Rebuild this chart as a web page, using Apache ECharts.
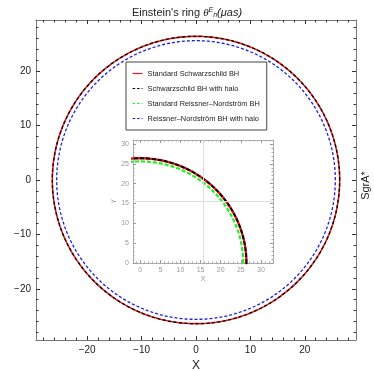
<!DOCTYPE html>
<html><head><meta charset="utf-8">
<script src="https://cdn.jsdelivr.net/npm/echarts@6/dist/echarts.min.js"></script>
<style>html,body{margin:0;padding:0;background:#fff}#c{width:374px;height:371px}</style>
</head><body><div id="c"></div>
<script>
// ---- data ----
const seriesNames = ['Standard Schwarzschild BH','Schwarzschild BH with halo','Standard Reissner\u2013Nordstr\u00f6m BH','Reissner\u2013Nordstr\u00f6m BH with halo'];
const ringRadius = [26.4, 26.4, 25.6, 25.6];   // Einstein ring radius (μas)
const seriesColors = ['#e41a1c','#000000','#22ee22','#1a1aee'];
const mainSeries = [0, 1, 3];     // drawn in the main panel
const insetSeries = [0, 1, 2];    // drawn in the inset
const mainMajorTicks = [-20, -10, 0, 10, 20];
const insetMajorTicks = [0, 5, 10, 15, 20, 25, 30];
const insetGridLines = [15.6];

function circle(r){ const pts=[]; for(let a=0;a<=360;a++){const t=a*Math.PI/180; pts.push([r*Math.cos(t), r*Math.sin(t)]);} return pts; }
function minorList(lo,hi,step,majors){const out=[];for(let v=lo;v<=hi+1e-9;v+=step){const w=Math.round(v*100)/100; if(!majors.includes(w)) out.push(w);}return out;}
const mainMinor = minorList(-28,28,2,mainMajorTicks);
const insetMinorX = minorList(-1,33,1,insetMajorTicks);
const insetMinorY = minorList(0,31,1,insetMajorTicks);
const fmt = v => String(v).replace('-', '\u2212');

const M = {min:-29.4, max:29.4};
const IX = {min:-1.8, max:33};
const IY = {min:0, max:31};
const frameCol = '#777';
const insetCol = '#aaa';

function axisSet(grid, range, pos, majors, minors, labels, majorLen, minorLen, lineCol, labelStyle){
  const base = {type:'value', gridIndex:grid, min:range.min, max:range.max, position:pos, splitLine:{show:false}};
  return [
    Object.assign({}, base, {axisLine:{show:true, onZero:false, lineStyle:{color:lineCol, width:1}},
      axisTick:{show:true, inside:true, length:majorLen, customValues:majors, lineStyle:{color:lineCol==insetCol?'#999':'#333'}},
      axisLabel:Object.assign({show:labels, customValues:majors, formatter:fmt}, labelStyle)}),
    Object.assign({}, base, {axisLine:{show:false, onZero:false},
      axisTick:{show:true, inside:true, length:minorLen, customValues:minors, lineStyle:{color:lineCol==insetCol?'#aaa':'#333'}},
      axisLabel:{show:false}})
  ];
}
const mainLbl = {fontSize:10, color:'#222', fontFamily:'Liberation Sans', margin:5};
const insetLbl = {fontSize:7, color:'#999', fontFamily:'Liberation Sans', margin:4};

const xAxes = [].concat(
  axisSet(0,M,'bottom',mainMajorTicks,mainMinor,true,4,2.5,frameCol,mainLbl),
  axisSet(0,M,'top',mainMajorTicks,mainMinor,false,4,2.5,frameCol,mainLbl),
  axisSet(1,IX,'bottom',insetMajorTicks,insetMinorX,true,3,1.5,insetCol,insetLbl),
  axisSet(1,IX,'top',insetMajorTicks,insetMinorX,false,3,1.5,insetCol,insetLbl)
);
const yAxes = [].concat(
  axisSet(0,M,'left',mainMajorTicks,mainMinor,true,4,2.5,frameCol,mainLbl),
  axisSet(0,M,'right',mainMajorTicks,mainMinor,false,4,2.5,frameCol,mainLbl),
  axisSet(1,IY,'left',insetMajorTicks,insetMinorY,true,3,1.5,insetCol,insetLbl),
  axisSet(1,IY,'right',insetMajorTicks,insetMinorY,false,3,1.5,insetCol,insetLbl)
);
xAxes[0].name='X'; xAxes[0].nameLocation='middle'; xAxes[0].nameGap=17; xAxes[0].nameTextStyle={fontSize:12,color:'#222',fontFamily:'Liberation Sans'};
yAxes[0].name='Y'; yAxes[0].nameLocation='middle'; yAxes[0].nameGap=23; yAxes[0].nameTextStyle={fontSize:12,color:'#222',fontFamily:'Liberation Sans'};
xAxes[4].name='X'; xAxes[4].nameLocation='middle'; xAxes[4].nameGap=13; xAxes[4].nameTextStyle={fontSize:7,color:'#999',fontFamily:'Liberation Sans'};
yAxes[4].name='Y'; yAxes[4].nameLocation='middle'; yAxes[4].nameGap=12; yAxes[4].nameTextStyle={fontSize:7,color:'#999',fontFamily:'Liberation Sans'};

const lineStyles = [
  {type:'solid', width:1.6},
  {type:[3,2.5], width:1.3},
  {type:[3.5,2], width:1.6},
  {type:[3,2], width:1.3}
];
const insetLineStyles = [
  {type:'solid', width:2.4},
  {type:[4,2], width:1.8},
  {type:[4,2], width:2.2},
  {type:[4,2], width:1.8}
];
const legendDash = ['solid', [2.5,2], [2.5,2], [2.5,2]];

const series = [];
series.push({type:'line', xAxisIndex:4, yAxisIndex:4, data:[], silent:true,
  markLine:{silent:true, symbol:'none', label:{show:false}, lineStyle:{color:'#ddd', type:'solid', width:1},
    data:[].concat(insetGridLines.map(v=>({xAxis:v})), insetGridLines.map(v=>({yAxis:v})))}});
mainSeries.forEach(i=>series.push({type:'line', name:seriesNames[i], xAxisIndex:0, yAxisIndex:0, showSymbol:false, symbol:'none', animation:false,
  data:circle(ringRadius[i]), lineStyle:Object.assign({color:seriesColors[i]}, lineStyles[i]), itemStyle:{color:seriesColors[i]}}));
insetSeries.forEach(i=>series.push({type:'line', name:seriesNames[i], xAxisIndex:4, yAxisIndex:4, showSymbol:false, symbol:'none', animation:false,
  data:circle(ringRadius[i]), lineStyle:Object.assign({color:seriesColors[i]}, insetLineStyles[i]), itemStyle:{color:seriesColors[i]}}));

const chart = echarts.init(document.getElementById('c'), null, {renderer:'canvas'});
chart.setOption({
  animation:false,
  backgroundColor:'#fff',
  title:{left:'center', top:2, text:"Einstein's ring {th|θ}{sup|E}{sub|n}{it|(μas)}",
    textStyle:{fontSize:11, fontWeight:'normal', color:'#222', fontFamily:'Liberation Sans',
      rich:{th:{fontSize:11, fontStyle:'italic', fontFamily:'Liberation Serif', color:'#222'},
            sup:{fontSize:7, fontStyle:'italic', color:'#222', verticalAlign:'top', padding:[0,0,4,0]},
            sub:{fontSize:7, fontStyle:'italic', color:'#222', verticalAlign:'bottom', padding:[5,0,0,0]},
            it:{fontSize:11, fontStyle:'italic', color:'#222'}}}},
  grid:[{left:36, top:20, right:18, bottom:31, show:false, containLabel:false, outerBoundsMode:'none'},
        {left:133, top:140, width:140, height:123, show:true, backgroundColor:'#fff', borderWidth:0, containLabel:false, outerBoundsMode:'none'}],
  xAxis:xAxes, yAxis:yAxes,
  legend:{orient:'vertical', left:126, top:62, backgroundColor:'#fff', borderColor:'#444', borderWidth:1,
    padding:[8,7,8,6], itemGap:8, itemWidth:10, itemHeight:8,
    itemStyle:{color:'rgba(0,0,0,0)', borderWidth:0, opacity:0},
    textStyle:{fontSize:7.4, color:'#222', fontFamily:'Liberation Sans'},
    data:seriesNames.map((n,i)=>({name:n, itemStyle:{color:'rgba(0,0,0,0)', borderWidth:0, opacity:0},
      lineStyle:{color:seriesColors[i], type:legendDash[i], width:1.2, opacity:1}}))},
  graphic:[{type:'text', left:360, top:'middle', rotation:Math.PI/2, style:{text:'SgrA*', fontSize:11, fill:'#222', fontFamily:'Liberation Sans'}}],
  series:series
});
</script></body></html>
